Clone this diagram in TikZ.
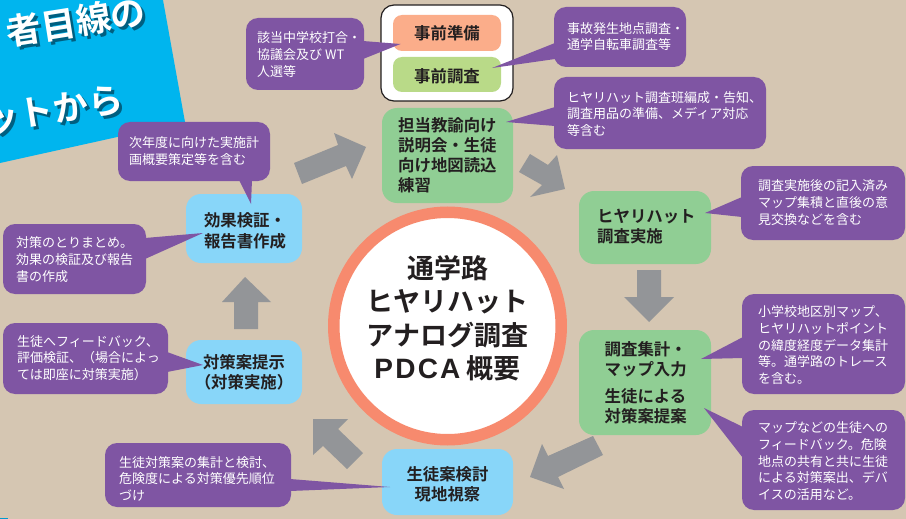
\documentclass[tikz,border=0pt]{standalone}
\usepackage{fontspec}
\setmainfont{Noto Sans CJK JP}
\newfontfamily\jpb{Noto Sans CJK JP Bold}
\newfontfamily\latb[LetterSpace=8]{Liberation Sans}
\definecolor{bgc}{HTML}{D5C6B2}
\definecolor{purp}{HTML}{7F55A3}
\definecolor{grn}{HTML}{90CE94}
\definecolor{sky}{HTML}{88D6F9}
\definecolor{salm}{HTML}{F78A6E}
\definecolor{peach}{HTML}{FBAD8A}
\definecolor{lime}{HTML}{B9DA88}
\definecolor{gar}{HTML}{939598}
\definecolor{ban}{HTML}{00B5EE}
\definecolor{shad}{HTML}{005F80}
\definecolor{ink}{HTML}{231F20}
\tikzset{
 px/.style={x=1pt,y=-1pt},
 memo/.style={fill=purp,rounded corners=12pt,draw=none},
 tailp/.style={fill=purp,draw=none},
 memotxt/.style={text=white,font=\fontsize{13}{16.7}\selectfont,align=left,anchor=north west,inner sep=0pt},
 stage/.style={rounded corners=15pt,draw=none},
 stagetxt/.style={text=ink,font=\jpb\fontsize{16.4}{20.5}\selectfont,align=left,inner sep=0pt},
 garrow/.style={fill=gar,draw=none},
}
\begin{document}
\begin{tikzpicture}[px]
\useasboundingbox (0,0) rectangle (906,519);
\clip (0,0) rectangle (906,519);
\fill[bgc] (0,0) rectangle (906,519);
% banner
\fill[ban] (0,0) -- (163,0) -- (185,122) -- (0,163) -- cycle;
\foreach \dx/\c in {3/shad,0/white}{
 \node[text=\c,font=\jpb\fontsize{35}{35}\selectfont,rotate=9,inner sep=0pt] (bannera\dx) at (76+\dx,21.5+\dx) {者目線の};
 \node[text=\c,font=\jpb\fontsize{35}{35}\selectfont,rotate=9,inner sep=0pt] (bannerb\dx) at (53.5+\dx,110+\dx) {ットから};
}
\fill[ban!70!shad] (0,518) rectangle (8,519);
% circle
\node[circle,fill=white,draw=salm,line width=11.5pt,minimum size=227.5pt,inner sep=0pt] (core) at (447.5,326) {};
\node[font=\jpb\fontsize{27}{33.5}\selectfont,align=center,text=ink,inner sep=0pt] (coretxt) at (447.5,318) {通学路\\ヒヤリハット\\アナログ調査\\{\latb\bfseries\fontsize{28}{33.5}\selectfont PDCA} 概要};
% gray arrows
\fill[garrow] (294,163) -- (338,145) -- (334,133) -- (366,147) -- (352,179) -- (346,166) -- (302,184) -- cycle;
\fill[garrow] (530,154) -- (519,172) -- (542,185) -- (530,197) -- (565,189) -- (557,155) -- (548,165) -- cycle;
\fill[garrow] (637,270) -- (661,270) -- (661,297) -- (674,297) -- (649,322) -- (624,297) -- (637,297) -- cycle;
\fill[garrow] (593,436) -- (603,455) -- (558,477) -- (564,489) -- (530,477) -- (542,444) -- (548,456) -- cycle;
\fill[garrow] (363,453) -- (347,469) -- (323,446) -- (313,455) -- (313,419) -- (348,419) -- (338,429) -- cycle;
\fill[garrow] (234,329) -- (258,329) -- (258,302) -- (271,302) -- (245,277) -- (222,302) -- (234,302) -- cycle;
% stages
\draw[fill=white,draw=ink,line width=1.2pt,rounded corners=13pt] (381,5) rectangle (513,101);
\fill[peach,rounded corners=9pt] (393,15) rectangle (501,51);
\fill[lime,rounded corners=9pt] (393,57) rectangle (501,92);
\node[stagetxt] (pre1) at (447,33) {事前準備};
\node[stagetxt] (pre2) at (447,76) {事前調査};
\fill[grn,stage] (382,108) rectangle (513,203);
\node[stagetxt,anchor=west,font=\jpb\fontsize{16.4}{20}\selectfont] (brief) at (398,155) {担当教諭向け\\説明会・生徒\\向け地図読込\\練習};
\fill[grn,stage] (579,191) rectangle (711,264);
\node[stagetxt,anchor=west,font=\jpb\fontsize{16.4}{20}\selectfont] (hh) at (597,227) {ヒヤリハット\\調査実施};
\fill[grn,stage] (579,330) rectangle (711,435);
\node[stagetxt,anchor=west,font=\jpb\fontsize{16.4}{20}\selectfont] (sum1) at (604.5,359.5) {調査集計・\\マップ入力};
\node[stagetxt,anchor=west,font=\jpb\fontsize{16.4}{20}\selectfont] (sum2) at (604.5,406) {生徒による\\対策案提案};
\fill[sky,stage] (382,449) rectangle (513,515);
\node[stagetxt,align=center] (site) at (447.5,484.5) {生徒案検討\\現地視察};
\fill[sky,stage] (186,340) rectangle (302,404);
\node[stagetxt,align=center] (plan) at (244,372.5) {対策案提示\\（対策実施）};
\fill[sky,stage] (186,194) rectangle (302,263);
\node[stagetxt,align=center] (eval) at (245,231) {効果検証・\\報告書作成};
% memos
\fill[memo] (246,18) rectangle (364,90);
\fill[tailp] (363,41) -- (400.5,44) -- (363,59) -- cycle;
\node[memotxt] (m1) at (257,31.5) {該当中学校打合・\\協議会及び WT\\人選等};
\fill[memo] (554,7) rectangle (686,67);
\fill[tailp] (555,43) -- (492,68) -- (555,59) -- cycle;
\node[memotxt] (m2) at (567,22) {事故発生地点調査・\\通学自転車調査等};
\fill[memo] (554,77) rectangle (766,149);
\fill[tailp] (555,107) -- (506,122) -- (555,126) -- cycle;
\node[memotxt] (m3) at (567,91) {ヒヤリハット調査班編成・告知、\\調査用品の準備、メディア対応\\等含む};
\fill[memo] (741,166) rectangle (905,240);
\fill[tailp] (742,197) -- (705,213) -- (742,217) -- cycle;
\node[memotxt] (m4) at (758,179.5) {調査実施後の記入済み\\マップ集積と直後の意\\見交換などを含む};
\fill[memo] (742,294) rectangle (905,394);
\fill[tailp] (743,337) -- (701,359) -- (743,358) -- cycle;
\node[memotxt] (m5) at (758,305.5) {小学校地区別マップ、\\ヒヤリハットポイント\\の緯度経度データ集計\\等。通学路のトレース\\を含む。};
\fill[memo] (742,410) rectangle (905,510);
\fill[tailp] (743,427) -- (704,408) -- (743,458) -- cycle;
\node[memotxt] (m6) at (758,421.5) {マップなどの生徒への\\フィードバック。危険\\地点の共有と共に生徒\\による対策案出、デバ\\イスの活用など。};
\fill[memo] (118,122) rectangle (270,181);
\fill[tailp] (239,180) -- (251,204) -- (252,180) -- cycle;
\node[memotxt] (m7) at (129,136.5) {次年度に向けた実施計\\画概要策定等を含む};
\fill[memo] (3,224) rectangle (146,294);
\fill[tailp] (145,238) -- (203,233) -- (145,259) -- cycle;
\node[memotxt] (m8) at (16,236.5) {対策のとりまとめ。\\効果の検証及び報告\\書の作成};
\fill[memo] (3,323) rectangle (168,394);
\fill[tailp] (167,352) -- (203,365) -- (167,372) -- cycle;
\node[memotxt] (m9) at (17,335) {生徒へフィードバック、\\評価検証、（場合によっ\\ては即座に対策実施）};
\fill[memo] (105,443) rectangle (291,507);
\fill[tailp] (290,479) -- (390,487) -- (290,491) -- cycle;
\node[memotxt] (m10) at (119,456) {生徒対策案の集計と検討、\\危険度による対策優先順位\\づけ};
\end{tikzpicture}
\end{document}
